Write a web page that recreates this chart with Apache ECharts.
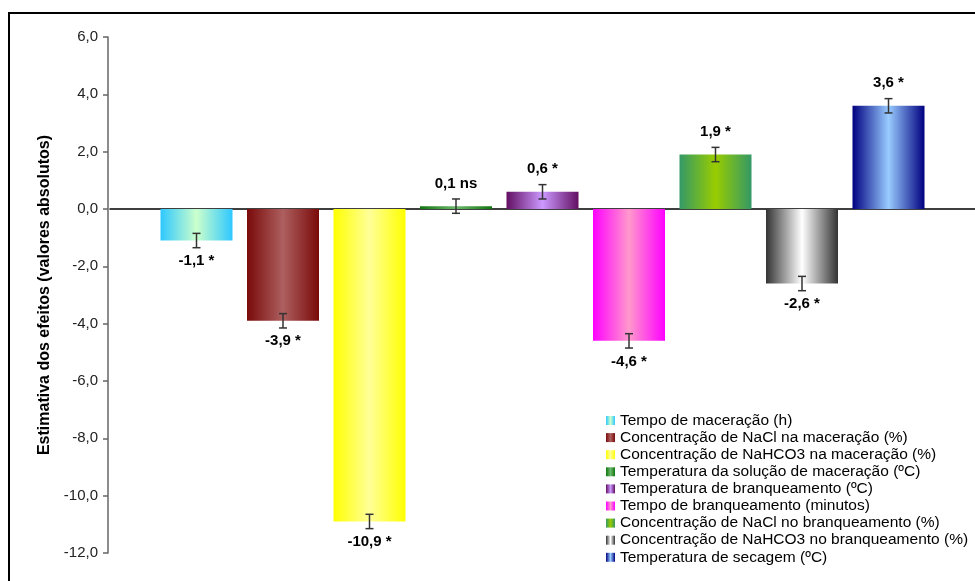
<!DOCTYPE html>
<html>
<head>
<meta charset="utf-8">
<script src="https://cdn.jsdelivr.net/npm/echarts@6/dist/echarts.min.js"></script>
<style>
  html, body { margin: 0; padding: 0; background: #fff; }
  #chart { width: 975px; height: 581px; }
</style>
</head>
<body>
<div id="chart"></div>
<script>
// Factor names (legend order = bar order)
const factors = [
  'Tempo de maceração (h)',
  'Concentração de NaCl na maceração (%)',
  'Concentração de NaHCO3 na maceração (%)',
  'Temperatura da solução de maceração (ºC)',
  'Temperatura de branqueamento (ºC)',
  'Tempo de branqueamento (minutos)',
  'Concentração de NaCl no branqueamento (%)',
  'Concentração de NaHCO3 no branqueamento (%)',
  'Temperatura de secagem (ºC)'
];
// Estimated effects and their standard errors
const effects = [-1.1, -3.9, -10.9, 0.1, 0.6, -4.6, 1.9, -2.6, 3.6];
const errors = [0.25, 0.25, 0.25, 0.25, 0.25, 0.25, 0.25, 0.25, 0.25];
// Significance markers
const signif = ['*', '*', '*', 'ns', '*', '*', '*', '*', '*'];
// Y axis range
const yMin = -12, yMax = 6, yStep = 2;

// Two-colour "centre" gradients: [edge, centre]
const gradients = [
  ['#2ec8ff', '#ccffcc'],
  ['#7a0a0a', '#ad5f5f'],
  ['#ffff00', '#ffff99'],
  ['#0f760f', '#6cb86c'],
  ['#620f62', '#cc99ff'],
  ['#ff00ff', '#ff99cc'],
  ['#339966', '#99cc00'],
  ['#333333', '#ffffff'],
  ['#000080', '#99ccff']
];

const fmt = v => v.toFixed(1).replace('.', ',');

// Category slots: one empty slot on each side of the nine factors
const slots = [''].concat(factors, ['']);

function grad(c) {
  return new echarts.graphic.LinearGradient(0, 0, 1, 0, [
    { offset: 0, color: c[0] },
    { offset: 0.5, color: c[1] },
    { offset: 1, color: c[0] }
  ]);
}

const barSeries = factors.map((name, i) => {
  const data = slots.map(() => null);
  data[i + 1] = effects[i];
  const neg = effects[i] < 0;
  return {
    name: name,
    type: 'bar',
    stack: 'effects',
    barWidth: 72,
    data: data,
    itemStyle: { color: grad(gradients[i]) },
    label: {
      show: true,
      position: neg ? 'bottom' : 'top',
      distance: neg ? 13 : 15,
      fontFamily: 'Liberation Sans, Arial, sans-serif',
      fontSize: 15,
      fontWeight: 'bold',
      color: '#000',
      formatter: p => p.value == null ? '' : fmt(p.value) + ' ' + signif[i]
    },
    z: 2
  };
});

const errorSeries = {
  type: 'custom',
  name: 'erro',
  silent: true,
  z: 5,
  encode: { x: 0, y: [1, 2] },
  data: effects.map((v, i) => [i + 1, v - errors[i], v + errors[i]]),
  renderItem: function (params, api) {
    const x = api.value(0);
    const lo = api.coord([x, api.value(1)]);
    const hi = api.coord([x, api.value(2)]);
    const cap = 4;
    const style = { stroke: '#333', lineWidth: 1.5 };
    return {
      type: 'group',
      children: [
        { type: 'line', shape: { x1: lo[0], y1: lo[1], x2: hi[0], y2: hi[1] }, style: style },
        { type: 'line', shape: { x1: lo[0] - cap, y1: lo[1], x2: lo[0] + cap, y2: lo[1] }, style: style },
        { type: 'line', shape: { x1: hi[0] - cap, y1: hi[1], x2: hi[0] + cap, y2: hi[1] }, style: style }
      ]
    };
  }
};

const chart = echarts.init(document.getElementById('chart'), null, { renderer: 'canvas' });
chart.setOption({
  animation: false,
  backgroundColor: '#fff',
  textStyle: { fontFamily: 'Liberation Sans, Arial, sans-serif' },
  graphic: [{
    type: 'rect',
    silent: true,
    z: 100,
    shape: { x: 9, y: 13, width: 2000, height: 2000 },
    style: { fill: 'none', stroke: '#000', lineWidth: 2 }
  }],
  grid: { left: 110, right: 0, top: 37, bottom: 28 },
  legend: {
    orient: 'vertical',
    left: 606,
    top: 412,
    padding: 0,
    itemWidth: 9,
    itemHeight: 9,
    itemGap: 0.1,
    icon: 'rect',
    data: factors,
    textStyle: {
      fontFamily: 'Liberation Sans, Arial, sans-serif',
      fontSize: 15.5,
      lineHeight: 17,
      color: '#000'
    }
  },
  xAxis: {
    type: 'category',
    data: slots,
    boundaryGap: false,
    axisLine: { onZero: true, lineStyle: { color: '#000', width: 1.5 } },
    axisTick: { show: false },
    axisLabel: { show: false },
    splitLine: { show: false }
  },
  yAxis: {
    type: 'value',
    min: yMin,
    max: yMax,
    interval: yStep,
    offset: 2,
    name: 'Estimativa dos efeitos (valores absolutos)',
    nameLocation: 'middle',
    nameGap: 55,
    nameTextStyle: {
      fontFamily: 'Liberation Sans, Arial, sans-serif',
      fontSize: 16,
      fontWeight: 'bold',
      color: '#000'
    },
    axisLine: { show: true, lineStyle: { color: '#666', width: 1.5 } },
    axisTick: { show: true, length: 5, lineStyle: { color: '#666', width: 1.5 } },
    axisLabel: {
      fontFamily: 'Liberation Sans, Arial, sans-serif',
      fontSize: 15,
      color: '#222',
      margin: 10,
      formatter: v => fmt(v)
    },
    splitLine: { show: false }
  },
  series: barSeries.concat([errorSeries])
});
</script>
</body>
</html>
